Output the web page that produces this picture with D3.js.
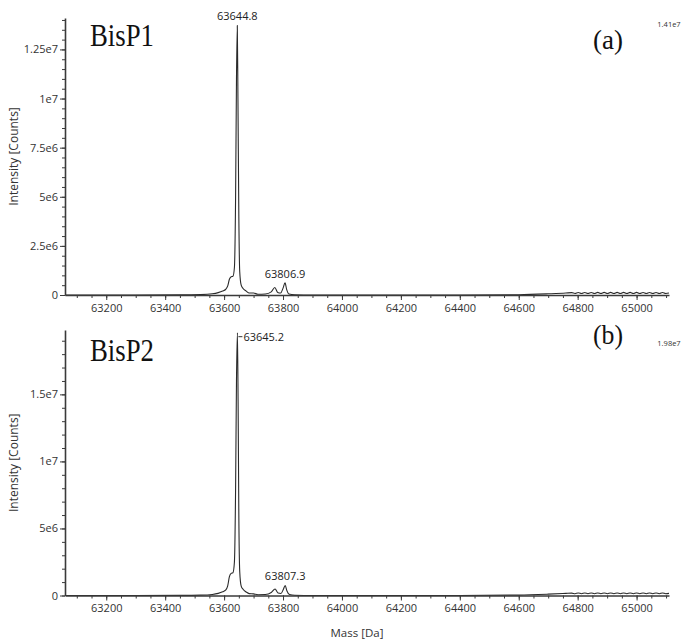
<!DOCTYPE html>
<html>
<head>
<meta charset="utf-8">
<script src="https://cdnjs.cloudflare.com/ajax/libs/d3/7.8.5/d3.min.js"></script>
<style>
  body { margin: 0; background: #fff; }
  svg { display: block; }
</style>
</head>
<body>
<svg id="chart" width="683" height="643"></svg>
<script>
// deconvoluted spectra, mass [Da] / intensity [counts]
var massA = [63060, 63300, 63450, 63520, 63560, 63580, 63595, 63605, 63612, 63618, 63624, 63630, 63635, 63639, 63642, 63644.8,
  63647, 63650, 63653, 63658, 63665, 63675, 63685, 63700, 63715, 63740, 63760, 63772, 63782, 63792, 63800, 63806.9, 63812,
  63820, 63840, 63900, 64400, 64600, 64700, 64760,
  64780, 64791, 64802, 64813, 64824, 64835, 64846, 64857, 64868, 64879, 64890, 64901, 64912, 64923, 64934, 64945,
  64956, 64967, 64978, 64989, 65000, 65011, 65022, 65033, 65044, 65055, 65066, 65077, 65088, 65099, 65110];
var intA = [0, 0, 5e3, 2e4, 6e4, 1.2e5, 2.0e5, 2.8e5, 4.5e5, 8.0e5, 9.3e5, 9.5e5, 1.4e6, 5.0e6, 1.1e7, 1.372e7,
  1.0e7, 4.0e6, 1.2e6, 5.0e5, 3.2e5, 2.0e5, 1.0e5, 1.0e5, 4e4, 5e4, 1.6e5, 3.8e5, 1.3e5, 1.0e5, 3.5e5, 6.2e5, 3.0e5,
  5e4, 1e4, 0, 0, 1.5e4, 6e4, 1.0e5,
  1.2e5, 0.8e5, 1.3e5, 0.8e5, 1.3e5, 0.8e5, 1.3e5, 0.8e5, 1.35e5, 0.8e5, 1.35e5, 0.8e5, 1.35e5, 0.8e5, 1.35e5, 0.8e5,
  1.35e5, 0.8e5, 1.35e5, 0.8e5, 1.35e5, 0.8e5, 1.3e5, 0.8e5, 1.3e5, 0.8e5, 1.3e5, 0.8e5, 1.3e5, 0.8e5, 1.0e5];

var massB = [63060, 63300, 63450, 63520, 63560, 63580, 63595, 63605, 63612, 63618, 63624, 63630, 63635, 63639, 63642, 63645.2,
  63647.5, 63650, 63653, 63658, 63665, 63675, 63685, 63700, 63715, 63740, 63760, 63773, 63783, 63793, 63801, 63807.3, 63813,
  63822, 63840, 63900, 64400, 64600, 64700, 64760,
  64780, 64791, 64802, 64813, 64824, 64835, 64846, 64857, 64868, 64879, 64890, 64901, 64912, 64923, 64934, 64945,
  64956, 64967, 64978, 64989, 65000, 65011, 65022, 65033, 65044, 65055, 65066, 65077, 65088, 65099, 65110];
var intB = [0, 0, 1e4, 3e4, 8e4, 1.6e5, 2.8e5, 4.0e5, 7.0e5, 1.4e6, 1.65e6, 1.7e6, 2.5e6, 8.0e6, 1.6e7, 1.96e7,
  1.45e7, 6.0e6, 1.8e6, 7.0e5, 4.5e5, 2.6e5, 1.4e5, 1.2e5, 6e4, 7e4, 2.2e5, 4.8e5, 1.8e5, 1.5e5, 4.5e5, 7.5e5, 3.5e5,
  7e4, 2e4, 0, 0, 3e4, 1.0e5, 1.6e5,
  1.8e5, 1.3e5, 1.9e5, 1.3e5, 1.9e5, 1.3e5, 1.9e5, 1.3e5, 1.9e5, 1.3e5, 1.9e5, 1.3e5, 1.9e5, 1.3e5, 1.9e5, 1.3e5,
  1.9e5, 1.3e5, 1.9e5, 1.3e5, 1.9e5, 1.3e5, 1.9e5, 1.3e5, 1.9e5, 1.3e5, 1.9e5, 1.3e5, 1.9e5, 1.3e5, 1.6e5];

var xTicks = [63200, 63400, 63600, 63800, 64000, 64200, 64400, 64600, 64800, 65000];
var yTicksA = [0, 2.5e6, 5e6, 7.5e6, 1e7, 1.25e7];
var yLabelsA = ["0", "2.5e6", "5e6", "7.5e6", "1e7", "1.25e7"];
var yTicksB = [0, 5e6, 1e7, 1.5e7];
var yLabelsB = ["0", "5e6", "1e7", "1.5e7"];

var panels = [
  {mass: massA, inten: intA, yMax: 1.41e7, top: 18, bottom: 295, yTicks: yTicksA, yLabels: yLabelsA, minorStep: 5e5,
   name: "BisP1", tag: "(a)", maxLabel: "1.41e7", nameY: 46, tagY: 49, maxY: 27,
   peaks: [{m: 63644.8, v: 1.372e7, t: "63644.8", mode: "top"}, {m: 63806.9, v: 6.2e5, t: "63806.9", mode: "top"}]},
  {mass: massB, inten: intB, yMax: 1.98e7, top: 330, bottom: 595.5, yTicks: yTicksB, yLabels: yLabelsB, minorStep: 1e6,
   name: "BisP2", tag: "(b)", maxLabel: "1.98e7", nameY: 361, tagY: 344, maxY: 346,
   peaks: [{m: 63645.2, v: 1.96e7, t: "63645.2", mode: "side"}, {m: 63807.3, v: 7.5e5, t: "63807.3", mode: "top"}]}
];

var svg = d3.select("#chart");
var left = 65, right = 669;
var font = "'Open Sans', 'Noto Sans', sans-serif";
var serif = "'Liberation Serif', 'Times New Roman', serif";
var ink = "#3a3a3a";

var x = d3.scaleLinear().domain([63060, 65110]).range([left, right]);
var xMinor = d3.range(63100, 65110, 50);

panels.forEach(function(p){
  var y = d3.scaleLinear().domain([0, p.yMax]).range([p.bottom, p.top]);
  var g = svg.append("g");

  var line = d3.line()
    .x(function(d) { return x(d[0]); })
    .y(function(d) { return y(d[1]); })
    .curve(d3.curveMonotoneX);

  g.append("path")
    .datum(d3.zip(p.mass, p.inten))
    .attr("fill", "none")
    .attr("stroke", "#2a2a2a")
    .attr("stroke-width", 1.1)
    .attr("d", line);

  // x axis: minor then major
  g.append("g")
    .attr("transform", "translate(0," + p.bottom + ")")
    .call(d3.axisBottom(x).tickValues(xMinor).tickSize(3).tickFormat(""))
    .call(function(a){ a.select(".domain").remove(); a.selectAll("line").attr("stroke", ink); });
  var xa = g.append("g")
    .attr("transform", "translate(0," + p.bottom + ")")
    .call(d3.axisBottom(x).tickValues(xTicks).tickSize(5).tickSizeOuter(0).tickPadding(4).tickFormat(d3.format("d")));
  xa.select(".domain").attr("stroke", ink).attr("stroke-width", 1.6);
  xa.selectAll("line").attr("stroke", ink);
  xa.selectAll("text").attr("font-family", font).attr("font-size", 11).attr("fill", "#333");

  // y axis
  var yMinor = d3.range(0, p.yMax, p.minorStep);
  g.append("g")
    .attr("transform", "translate(" + left + ",0)")
    .call(d3.axisLeft(y).tickValues(yMinor).tickSize(3).tickFormat(""))
    .call(function(a){ a.select(".domain").remove(); a.selectAll("line").attr("stroke", ink); });
  var ya = g.append("g")
    .attr("transform", "translate(" + left + ",0)")
    .call(d3.axisLeft(y).tickValues(p.yTicks).tickSize(5).tickSizeOuter(0).tickPadding(2)
      .tickFormat(function(d, i){ return p.yLabels[i]; }));
  ya.select(".domain").attr("stroke", ink).attr("stroke-width", 1.6);
  ya.selectAll("line").attr("stroke", ink);
  ya.selectAll("text").attr("font-family", font).attr("font-size", 11).attr("fill", "#333");

  g.append("text")
    .attr("transform", "translate(18," + ((p.top + p.bottom) / 2) + ") rotate(-90)")
    .attr("text-anchor", "middle")
    .attr("font-family", font).attr("font-size", 12).attr("fill", "#333")
    .text("Intensity [Counts]");

  g.append("text")
    .attr("x", 90).attr("y", p.nameY)
    .attr("font-family", serif)
    .attr("font-size", 31).attr("fill", "#111")
    .attr("textLength", 64).attr("lengthAdjust", "spacingAndGlyphs")
    .text(p.name);

  g.append("text")
    .attr("x", 608).attr("y", p.tagY)
    .attr("text-anchor", "middle")
    .attr("font-family", serif)
    .attr("font-size", 28).attr("fill", "#111")
    .attr("textLength", 30).attr("lengthAdjust", "spacingAndGlyphs")
    .text(p.tag);

  g.append("text")
    .attr("x", 669).attr("y", p.maxY)
    .attr("text-anchor", "middle")
    .attr("font-family", font).attr("font-size", 7.5).attr("fill", "#333")
    .text(p.maxLabel);

  p.peaks.forEach(function(k){
    if (k.mode === "top") {
      g.append("text")
        .attr("x", x(k.m)).attr("y", y(k.v) - 5)
        .attr("text-anchor", "middle")
        .attr("font-family", font).attr("font-size", 11).attr("fill", "#222")
        .text(k.t);
    } else {
      g.append("line")
        .attr("x1", x(k.m) + 1).attr("x2", x(k.m) + 5)
        .attr("y1", y(k.v) + 4).attr("y2", y(k.v) + 4)
        .attr("stroke", "#333");
      g.append("text")
        .attr("x", x(k.m) + 6).attr("y", y(k.v) + 8)
        .attr("font-family", font).attr("font-size", 11).attr("fill", "#222")
        .text(k.t);
    }
  });
});

svg.append("text")
  .attr("x", 357).attr("y", 637)
  .attr("text-anchor", "middle")
  .attr("font-family", font).attr("font-size", 11.5).attr("fill", "#333")
  .text("Mass [Da]");
</script>
</body>
</html>
